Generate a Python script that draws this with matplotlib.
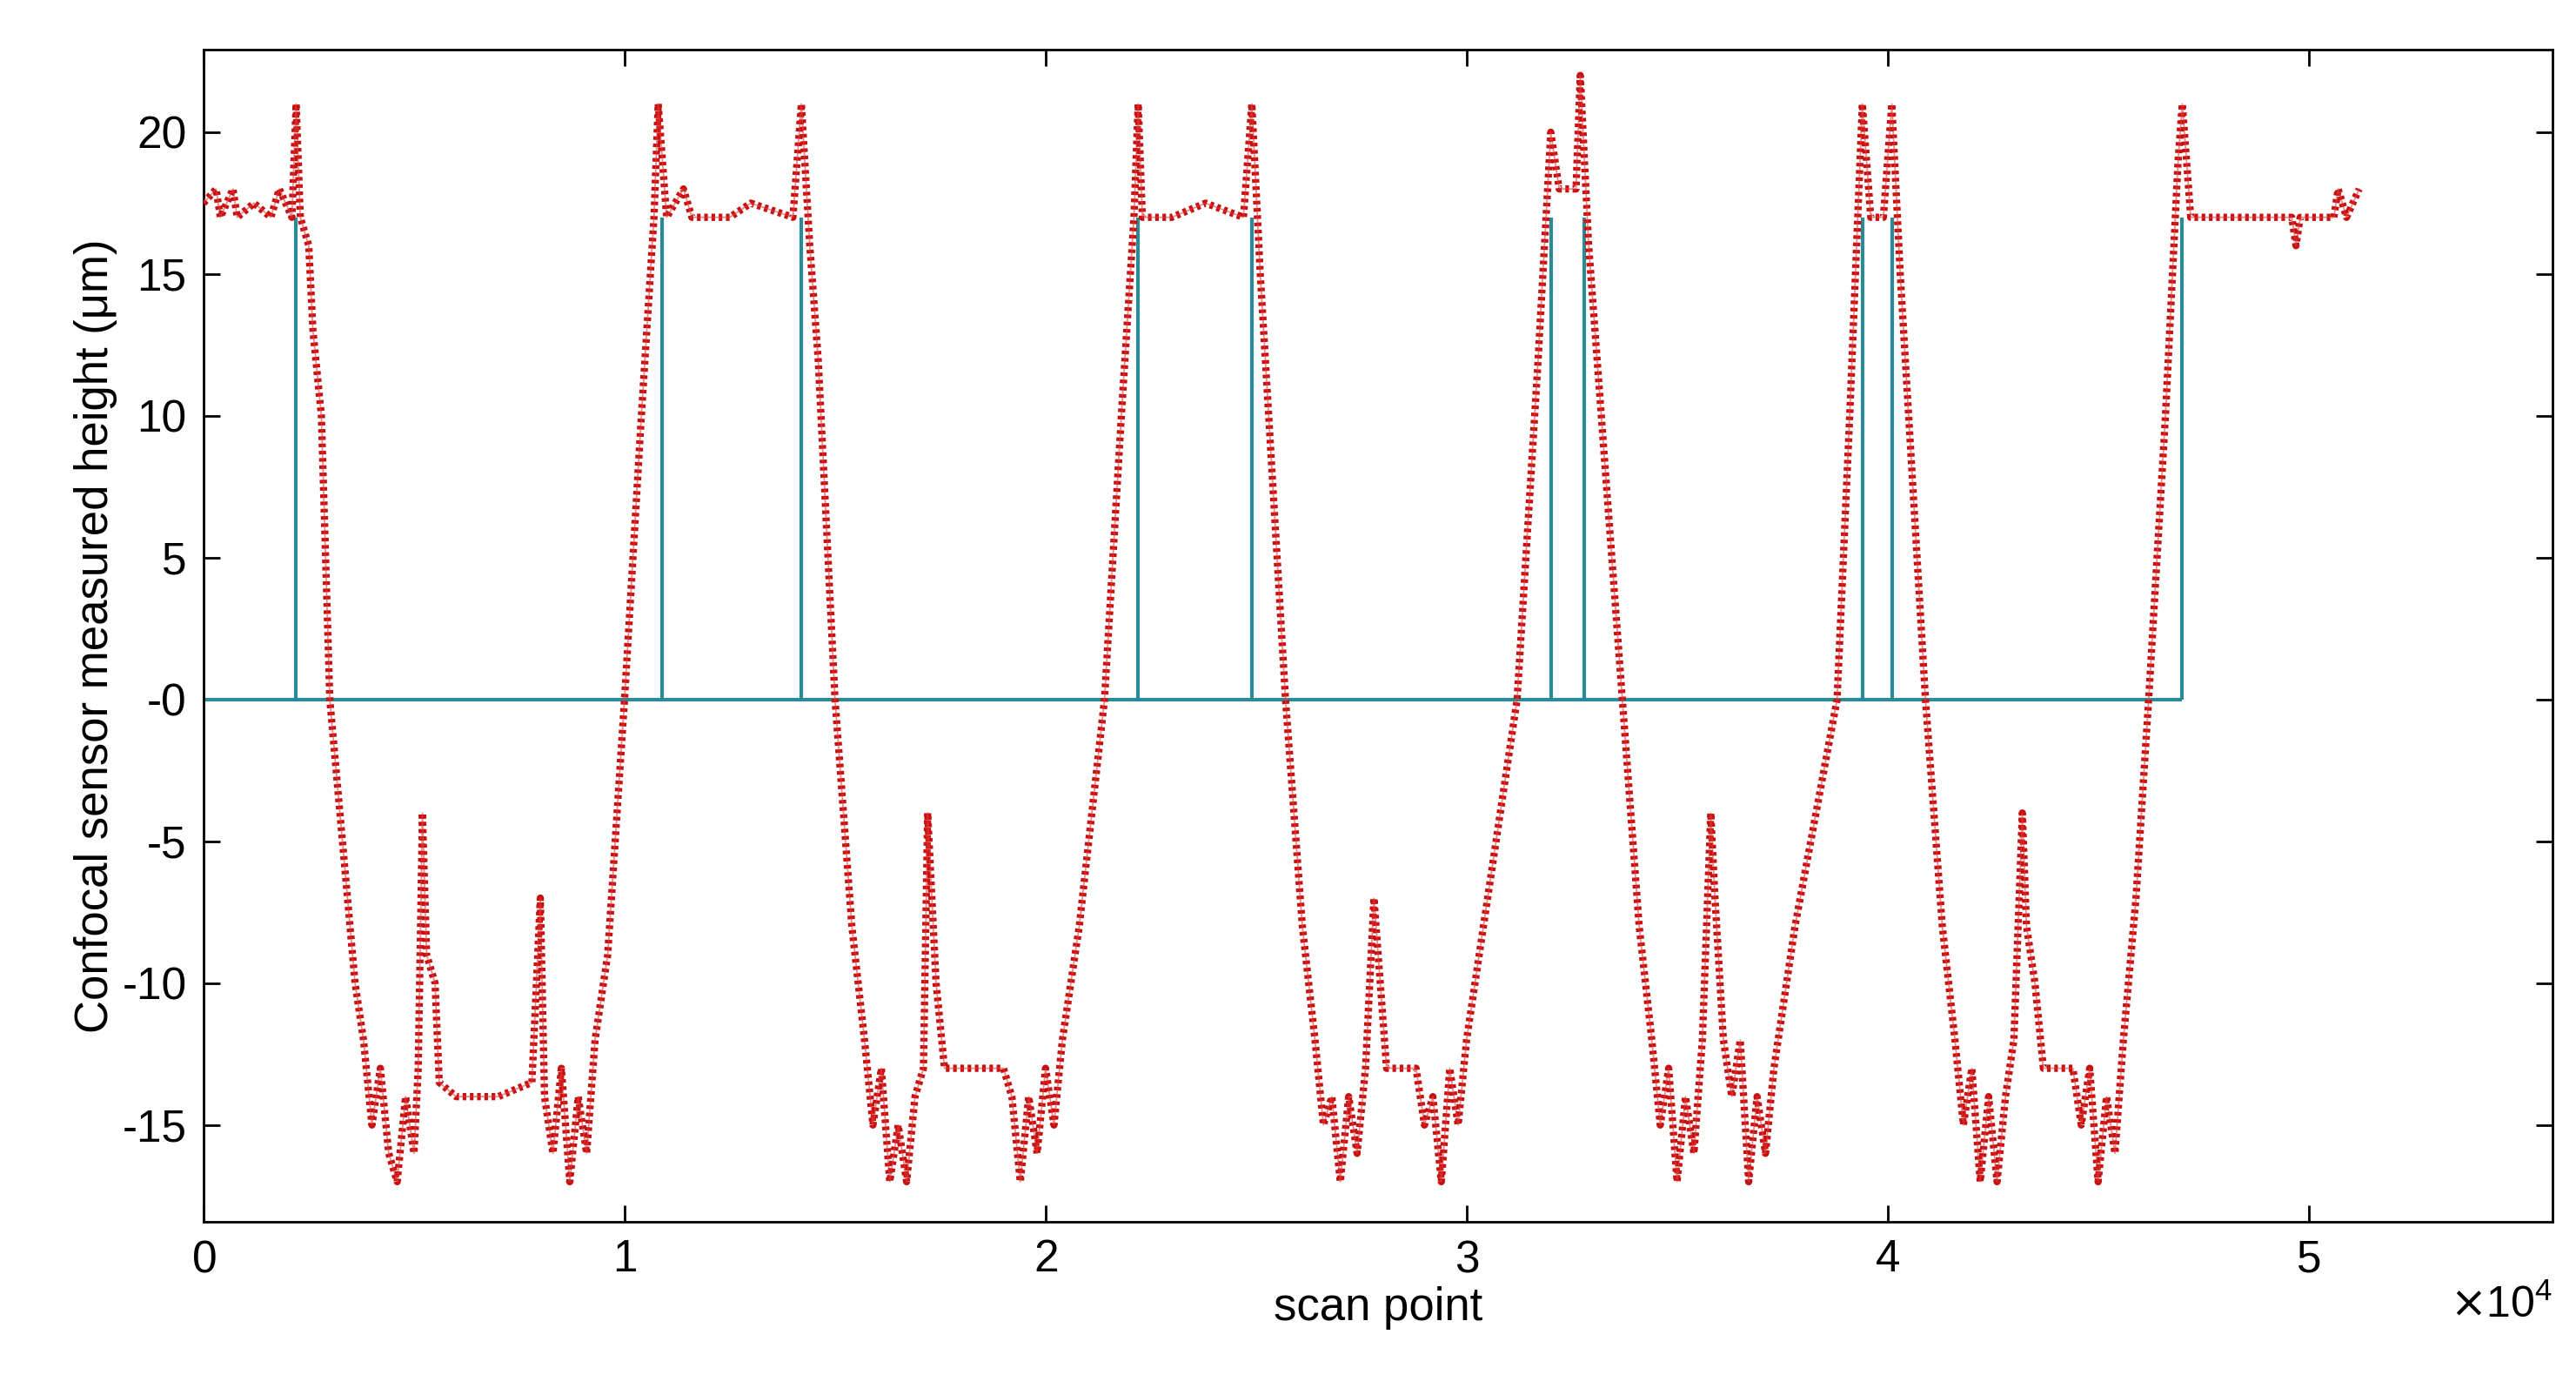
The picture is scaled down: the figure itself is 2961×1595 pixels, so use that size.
import matplotlib
matplotlib.use("Agg")
import matplotlib.pyplot as plt
from matplotlib.ticker import ScalarFormatter, FixedLocator, FixedFormatter
import numpy as np

plt.rcParams["font.family"] = ["Liberation Sans", "DejaVu Sans"]

# measured confocal height (scan point in units of 1e4, height in um)
red_x = [0.00, 0.03, 0.04, 0.07, 0.08, 0.12, 0.16, 0.18, 0.21, 0.22, 0.23, 0.25, 0.26, 0.28,
         0.30, 0.33, 0.36, 0.38, 0.40, 0.42, 0.44, 0.46, 0.48, 0.50, 0.51, 0.52, 0.53, 0.55,
         0.56, 0.60, 0.70, 0.78, 0.80, 0.81, 0.83, 0.85, 0.87, 0.89, 0.91, 0.93, 0.96, 1.00,
         1.04, 1.07, 1.08, 1.10, 1.14, 1.16, 1.25, 1.30, 1.40, 1.42, 1.44, 1.46, 1.50, 1.54,
         1.57, 1.59, 1.61, 1.63, 1.65, 1.67, 1.69, 1.71, 1.72, 1.73, 1.74, 1.76, 1.90, 1.92,
         1.94, 1.96, 1.98, 2.00, 2.02, 2.04, 2.08, 2.14, 2.18, 2.21, 2.22, 2.23, 2.30, 2.38,
         2.47, 2.49, 2.51, 2.53, 2.57, 2.61, 2.64, 2.66, 2.68, 2.70, 2.72, 2.74, 2.76, 2.78,
         2.79, 2.81, 2.88, 2.90, 2.92, 2.94, 2.96, 2.98, 3.00, 3.05, 3.12, 3.17, 3.20, 3.22,
         3.26, 3.27, 3.29, 3.32, 3.37, 3.41, 3.44, 3.46, 3.48, 3.50, 3.52, 3.54, 3.56, 3.58,
         3.59, 3.61, 3.63, 3.65, 3.67, 3.69, 3.71, 3.73, 3.78, 3.88, 3.91, 3.94, 3.96, 3.99,
         4.01, 4.03, 4.05, 4.09, 4.13, 4.16, 4.18, 4.20, 4.22, 4.24, 4.26, 4.28, 4.30, 4.32,
         4.33, 4.35, 4.37, 4.44, 4.46, 4.48, 4.50, 4.52, 4.54, 4.56, 4.59, 4.62, 4.66, 4.69,
         4.70, 4.72, 4.80, 4.96, 4.97, 4.98, 5.06, 5.07, 5.09, 5.12]
red_y = [17.5, 18, 17, 18, 17, 17.5, 17, 18, 17, 21, 17, 16, 13, 10,
         0, -5, -10, -12, -15, -13, -16, -17, -14, -16, -13, -4, -9, -10,
         -13.5, -14, -14, -13.5, -7, -14, -16, -13, -17, -14, -16, -12, -9, 0,
         10, 17, 21, 17, 18, 17, 17, 17.5, 17, 21, 16, 12, 0, -8,
         -12, -15, -13, -17, -15, -17, -14, -13, -4, -7, -10, -13, -13, -14,
         -17, -14, -16, -13, -15, -12, -8, 0, 10, 17, 21, 17, 17, 17.5,
         17, 21, 15, 10, 0, -8, -12, -15, -14, -17, -14, -16, -13, -7,
         -9, -13, -13, -15, -14, -17, -13, -15, -12, -7, 0, 12, 20, 18,
         18, 22, 16, 10, 0, -8, -12, -15, -13, -17, -14, -16, -12, -4,
         -7, -12, -14, -12, -17, -14, -16, -13, -8, 0, 10, 21, 17, 17,
         21, 15, 10, 0, -8, -12, -15, -13, -17, -14, -17, -14, -12, -4,
         -8, -10, -13, -13, -15, -13, -17, -14, -16, -12, -7, 0, 10, 19,
         21, 17, 17, 17, 16, 17, 17, 18, 17, 18]

# detected edge positions (impulses on a zero baseline)
edge_x = [0.22, 1.09, 1.42, 2.22, 2.49, 3.20, 3.28, 3.94, 4.01, 4.70]
edge_h = [17, 17, 17, 17, 17, 17, 17, 17, 17, 17]
baseline_end = 4.70

fig = plt.figure(figsize=(29.61, 15.95), dpi=100)
ax = fig.add_axes([0.079, 0.12, 0.912, 0.844])

teal = "#2a8a95"
ax.hlines(0, 0, baseline_end * 1e4, color=teal, lw=3, zorder=2)
ax.vlines(np.array(edge_x) * 1e4, 0, edge_h, color=teal, lw=3, zorder=2)

rx = np.array(red_x) * 1e4
ax.plot(rx, red_y, color="#c81010", lw=6, ls=(0, (0.5, 0.5)), zorder=3)
ax.plot(rx, red_y, color="#e03a3a", lw=1.2, alpha=0.6, zorder=3)

ax.set_xlim(0, 5.58e4)
ax.set_ylim(-18.4, 22.9)
ax.yaxis.set_major_locator(FixedLocator([-15, -10, -5, 0, 5, 10, 15, 20]))
ax.yaxis.set_major_formatter(FixedFormatter(["-15", "-10", "-5", "-0", "5", "10", "15", "20"]))
fmt = ScalarFormatter(useMathText=True)
fmt.set_powerlimits((0, 0))
ax.xaxis.set_major_formatter(fmt)
ax.xaxis.get_offset_text().set_fontsize(36)
ax.set_xticks([0, 1e4, 2e4, 3e4, 4e4, 5e4])

ax.tick_params(direction="in", length=14, width=2, labelsize=37, top=True, right=True, pad=14)
for s in ax.spines.values():
    s.set_linewidth(2)
ax.set_xlabel("scan point", fontsize=38)
ax.set_ylabel("Confocal sensor measured height (μm)", fontsize=38)

fig.savefig("out.png", dpi=100)
